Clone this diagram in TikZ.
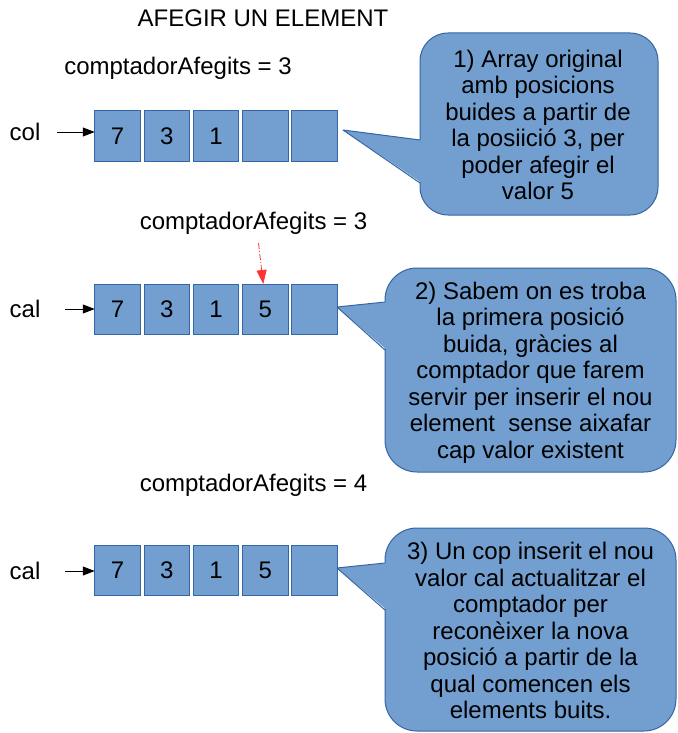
\documentclass[tikz,border=0pt]{standalone}
\usepackage{fontspec}
\setmainfont{Liberation Sans}
\usetikzlibrary{arrows.meta,calc}
\definecolor{cellfill}{HTML}{729FCF}
\definecolor{cellline}{HTML}{3465A4}
\definecolor{redarrow}{HTML}{FF3333}
\begin{document}
\begin{tikzpicture}[x=1pt,y=-1pt,
  every node/.style={font=\fontsize{24}{26.5}\selectfont, inner sep=0pt, outer sep=0pt},
  cell/.style={draw=cellline, fill=cellfill, line width=1pt, minimum width=45.5pt, minimum height=50pt},
  bubble/.style={draw=cellline, fill=cellfill, line width=1pt, rounded corners=30pt},
  btext/.style={align=center},
  ptrline/.style={draw=cellline, line width=1pt, line join=round},
  ptr/.style={-{Triangle[length=12pt,width=9pt]}, line width=0.8pt},
  redptr/.style={draw=redarrow, line width=0.8pt, dash pattern=on 6pt off 2pt on 1pt off 2pt, -{Triangle[length=14pt,width=10pt]}}]
\useasboundingbox (0,0) rectangle (677,733);

% title and counters
\node (title) at (263,18) {AFEGIR UN ELEMENT};
\node (cnt1) at (178,68) {comptadorAfegits = 3};
\node (cnt2) at (253.5,223) {comptadorAfegits = 3};
\node (cnt3) at (253.5,485) {comptadorAfegits = 4};

% row 1
\node (l1) at (25,132) {col};
\node[cell] (c11) at (117.5,136) {7};
\node[cell] (c12) at (166.75,136) {3};
\node[cell] (c13) at (216,136) {1};
\node[cell] (c14) at (265.25,136) {};
\node[cell] (c15) at (314.5,136) {};
\coordinate (a1) at (57,132);
\draw[ptr] (a1) -- (c11.west |- a1);

% row 2
\node (l2) at (25,309) {cal};
\node[cell] (c21) at (117.5,309) {7};
\node[cell] (c22) at (166.75,309) {3};
\node[cell] (c23) at (216,309) {1};
\node[cell] (c24) at (265.25,309) {5};
\node[cell] (c25) at (314.5,309) {};
\coordinate (a2) at (65,309);
\draw[ptr] (a2) -- (c21.west);
\coordinate (r0) at (258.5,243);
\draw[redptr] (r0) -- ($(c24.north)+(-2,0)$);

% row 3
\node (l3) at (25,571) {cal};
\node[cell] (c31) at (117.5,570.5) {7};
\node[cell] (c32) at (166.75,570.5) {3};
\node[cell] (c33) at (216,570.5) {1};
\node[cell] (c34) at (265.25,570.5) {5};
\node[cell] (c35) at (314.5,570.5) {};
\coordinate (a3) at (65,571);
\draw[ptr] (a3) -- (c31.west |- a3);

% callout 1
\node[bubble, rounded corners=28pt, minimum width=238pt, minimum height=182pt] (b1) at (539,124) {};
\coordinate (t1) at (343,130);
\fill[cellfill] (t1) -- ($(b1.west)+(2,16)$) -- ($(b1.west)+(2,59)$) -- cycle;
\draw[ptrline] ($(b1.west)+(0,16)$) -- (t1) -- ($(b1.west)+(0,59)$);
\node[btext] (x1) at (538,125)
  {1) Array original\\amb posicions\\buides a partir de\\la posiició 3, per\\poder afegir el\\valor 5};

% callout 2
\node[bubble, rounded corners=32pt, minimum width=291pt, minimum height=204pt] (b2) at (530.5,370) {};
\coordinate (t2) at (337,307);
\fill[cellfill] (t2) -- ($(b2.west)+(2,-68)$) -- ($(b2.west)+(2,-20)$) -- cycle;
\draw[ptrline] ($(b2.west)+(0,-68)$) -- (t2) -- ($(b2.west)+(0,-20)$);
\node[btext] (x2) at (530.5,372.5)
  {2) Sabem on es troba\\la primera posició\\buida, gràcies al\\comptador que farem\\servir per inserir el nou\\element\ \ sense aixafar\\cap valor existent};

% callout 3
\node[bubble, rounded corners=32pt, minimum width=291pt, minimum height=203pt] (b3) at (530.5,629.5) {};
\coordinate (t3) at (337,568);
\fill[cellfill] (t3) -- ($(b3.west)+(2,-66.5)$) -- ($(b3.west)+(2,-19.5)$) -- cycle;
\draw[ptrline] ($(b3.west)+(0,-66.5)$) -- (t3) -- ($(b3.west)+(0,-19.5)$);
\node[btext] (x3) at (530.5,630.5)
  {3) Un cop inserit el nou\\valor cal actualitzar el\\comptador per\\reconèixer la nova\\posició a partir de la\\qual comencen els\\elements buits.};
\end{tikzpicture}
\end{document}
